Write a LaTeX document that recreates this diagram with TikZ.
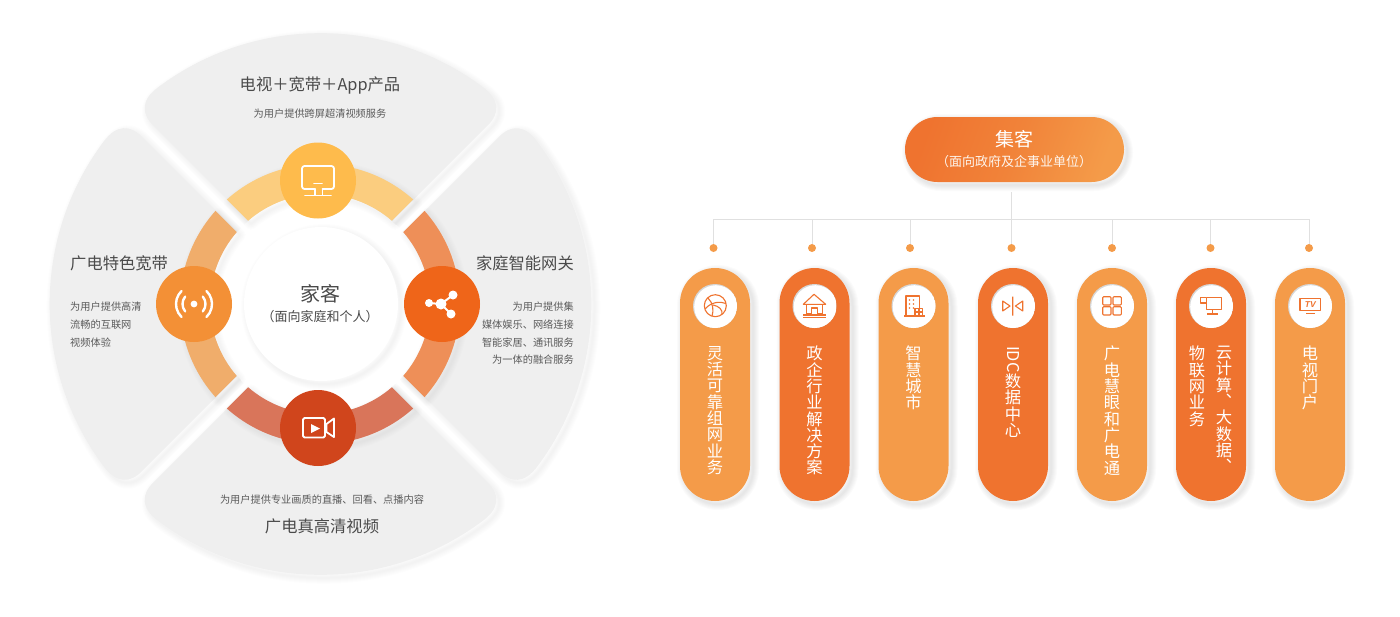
\documentclass[tikz,border=0pt]{standalone}
\usepackage{fontspec}
\usepackage{xcolor}
\usepackage{tikz}
\setmainfont{Noto Sans CJK SC}
\newfontfamily\tvfont{Liberation Sans}
\definecolor{sectorgray}{HTML}{EFEFEF}
\definecolor{textgray}{HTML}{4A4A4A}
\definecolor{notegray}{HTML}{5A5A5A}
\definecolor{linegray}{HTML}{E0E0E0}
\definecolor{holegray}{HTML}{D6D6D6}
\definecolor{pilla}{HTML}{F49B49}
\definecolor{pillb}{HTML}{EF732F}
\definecolor{ringtop}{HTML}{FBCD7F}
\definecolor{ringleft}{HTML}{F0AD6B}
\definecolor{ringright}{HTML}{EE8F58}
\definecolor{ringbot}{HTML}{D9755A}
\definecolor{balltop}{HTML}{FEBB4C}
\definecolor{ballleft}{HTML}{F39036}
\definecolor{ballright}{HTML}{EF6519}
\definecolor{ballbot}{HTML}{D0451C}
\newcommand{\vfont}{\fontsize{16.3pt}{16.3pt}\selectfont\lineskiplimit=-100pt\relax}
\tikzset{
    layer/.style 2 args={preaction={draw=black,draw opacity=#2,line width=#1,line join=round,transform canvas={shift={(3pt,-3pt)}}}},
    soft/.style={layer={12pt}{#1},layer={10pt}{#1},layer={8pt}{#1},layer={6pt}{#1},layer={4pt}{#1},layer={2pt}{#1}},
    ball/.style={circle,minimum size=76pt,inner sep=0pt},
    pill/.style={rectangle,rounded corners=35pt,minimum width=70pt,minimum height=233pt,inner sep=0pt,soft=.016},
    hole/.style={circle,fill=holegray,minimum size=44pt,inner sep=0pt,
        path picture={\fill[white] ([shift={(.8pt,-.8pt)}]path picture bounding box.center) circle (21.6pt);}},
    dot/.style={circle,fill=pilla,minimum size=8pt,inner sep=0pt},
    tree/.style={draw=linegray,line width=.8pt},
    title/.style={text=textgray,inner sep=0pt,font=\fontsize{16.3pt}{20pt}\selectfont},
    note/.style={text=notegray,inner sep=0pt,font=\fontsize{10.2pt}{17.6pt}\selectfont},
    vtext/.style={text=white,anchor=north,align=center,inner sep=0pt,font=\vfont},
    whiteline/.style={draw=white,line width=1.8pt,line cap=round,line join=round},
    thinline/.style={draw=pillb,line width=1.1pt,line join=round}
}
\begin{document}
\begin{tikzpicture}[x=1pt,y=-1pt]
    \useasboundingbox (0,0) rectangle (1400,616);

    \foreach \a in {0,90,180,270}
        \fill[sectorgray,soft=.006,shift={(320.5,304)},y=1pt,rotate=\a] (0,11.3) -- (-167,178.3)
            .. controls (-179,190) and (-180,204) .. (-162,217)
            arc[start angle=126.74,end angle=53.26,radius=271]
            .. controls (180,204) and (179,190) .. (167,178.3) -- cycle;

    \node[circle,fill=white,minimum size=220pt,inner sep=0pt] (disc) at (320,304) {};
    \foreach \a/\c in {0/ringtop,90/ringleft,180/ringbot,270/ringright}
        \fill[\c,soft=.006,shift={(320,304)},y=1pt,rotate=\a] (48.28:140)
            arc[start angle=48.28,end angle=131.72,radius=140] -- (130.83:110)
            arc[start angle=130.83,end angle=49.17,radius=110] -- cycle;

    \node[circle,fill=white,minimum size=154pt,inner sep=0pt,soft=.007] (home) at (321,304) {};
    \node[text=textgray,font=\fontsize{20pt}{24pt}\selectfont,inner sep=0pt] (homea) at (320,294) {家客};
    \node[text=textgray,font=\fontsize{13pt}{16pt}\selectfont,inner sep=0pt] (homeb) at (320,317) {（面向家庭和个人）};

    \node[ball,fill=balltop] (tv) at (318,180.5) {};
    \node[ball,fill=ballleft] (wifi) at (194,304) {};
    \node[ball,fill=ballright] (share) at (442,304) {};
    \node[ball,fill=ballbot] (video) at (318,428) {};

    \draw[whiteline,rounded corners=2.5pt] (315,189) -- (302,189) -- (302,166) -- (334,166) -- (334,189) -- (322.5,189);
    \draw[whiteline] (314,183.5) -- (322,183.5) (315,189) -- (315,195) (322.5,189) -- (322.5,195) (305,195.5) -- (331,195.5);

    \fill[white] (wifi) circle (3.4);
    \begin{scope}[shift={(194,304)},y=1pt]
        \draw[whiteline,line width=2.4pt] (40:11.5) arc[start angle=40,end angle=-40,radius=11.5];
        \draw[whiteline,line width=2.4pt] (140:11.5) arc[start angle=140,end angle=220,radius=11.5];
        \draw[whiteline,line width=2.4pt] (46:18) arc[start angle=46,end angle=-46,radius=18];
        \draw[whiteline,line width=2.4pt] (134:18) arc[start angle=134,end angle=226,radius=18];
    \end{scope}

    \draw[whiteline,line width=2pt] (429,303) -- (441,304) -- (453,295) (441,304) -- (451,314);
    \fill[white] (429,303) circle (4) (441,304) circle (5.5) (453,295) circle (4.5) (451,314) circle (4.5);

    \draw[whiteline,rounded corners=1.5pt] (303,418) rectangle (325,437.5);
    \draw[whiteline] (326.5,424) -- (334,418.5) -- (334,437) -- (326.5,432) -- cycle;
    \fill[white] (311,424) -- (320,428.5) -- (311,433) -- cycle;

    \node[title] (ttop) at (320,85.5) {电视＋宽带＋App产品};
    \node[note] (ntop) at (320,114) {为用户提供跨屏超清视频服务};
    \node[title,anchor=west] (tleft) at (70,263) {广电特色宽带};
    \node[note,anchor=north west,align=left] (nleft) at (70,302) {为用户提供高清\\流畅的互联网\\视频体验};
    \node[title,anchor=east] (tright) at (574,263) {家庭智能网关};
    \node[note,anchor=north east,align=right] (nright) at (574,302) {为用户提供集\\媒体娱乐、网络连接\\智能家居、通讯服务\\为一体的融合服务};
    \node[note] (nbot) at (322,500) {为用户提供专业画质的直播、回看、点播内容};
    \node[title] (tbot) at (322,526.5) {广电真高清视频};

    \node[rectangle,rounded corners=32.5pt,minimum width=219pt,minimum height=65pt,inner sep=0pt,soft=.016,
        left color=pillb,right color=pilla,middle color=pillb!60!pilla,shading angle=70] (jike) at (1014.5,149.5) {};
    \node[text=white,font=\fontsize{19pt}{22pt}\selectfont,inner sep=0pt] (jikea) at (1014,139) {集客};
    \node[text=white!90!pilla,font=\fontsize{13pt}{16pt}\selectfont,inner sep=0pt] (jikeb) at (1014,161.5) {（面向政府及企事业单位）};

    \coordinate (stem) at (1011.5,192);
    \coordinate (bus) at (1011.5,219.5);
    \foreach \i/\x in {1/713.5,2/812,3/910,4/1011.5,5/1112,6/1210.5,7/1309} {
        \node[dot] (d\i) at (\x,248) {};
        \draw[tree] (d\i) |- (bus);
    }
    \draw[tree] (stem) -- (d4);

    \foreach \i/\x/\c in {1/715/pilla,2/814.5/pillb,3/913.5/pilla,4/1013/pillb,5/1112/pilla,6/1211/pillb,7/1310/pilla} {
        \node[pill,fill=\c] (p\i) at (\x,384.5) {};
        \node[hole] (h\i) at (\x,306) {};
    }

    \node[vtext] (v1) at (715,346) {灵\\活\\可\\靠\\组\\网\\业\\务};
    \node[vtext] (v2) at (814.5,346) {政\\企\\行\\业\\解\\决\\方\\案};
    \node[vtext] (v3) at (913.5,346) {智\\慧\\城\\市};
    \node[vtext] (v4) at (1013,346) {\rotatebox{-90}{IDC}\\[25pt]数\\据\\中\\心};
    \node[vtext] (v5) at (1112,346) {广\\电\\慧\\眼\\和\\广\\电\\通};
    \node[vtext] (v6a) at (1224,346) {云\\计\\算\\︑\\大\\数\\据\\︑};
    \node[vtext] (v6b) at (1197,346) {物\\联\\网\\业\\务};
    \node[vtext] (v7) at (1310,346) {电\\视\\门\\户};

    \draw[thinline] (715.3,305.7) circle (11);
    \draw[thinline] (708,298) .. controls (713,303) and (714,310) .. (712,316.3);
    \draw[thinline] (705,309) .. controls (711,302) and (720,301) .. (726,303.5);
    \draw[thinline] (713,305) .. controls (719,306) and (723,310) .. (722,314.5);

    \draw[thinline] (803.3,304.3) -- (814,294.3) -- (825.7,304.3) -- cycle;
    \draw[thinline] (806.7,304.3) -- (806.7,314) -- (811.7,314) -- (811.7,308) -- (817.3,308) -- (817.3,314) -- (822.7,314) -- (822.7,304.3);
    \draw[thinline] (803.3,315) -- (825.7,315) (803.3,317.7) -- (825.7,317.7);

    \draw[thinline] (906,316) -- (906,296) -- (919.3,296) -- (919.3,308.3) (915,316) -- (915,308.3) -- (922.7,308.3) -- (922.7,316) (904,316) -- (925,316) (915,312) -- (922.7,312) (919,308.3) -- (919,316);
    \foreach \px in {909.5,913.5}
        \foreach \py in {300,304,308}
            \fill[pillb] (\px,\py) circle (.9);

    \draw[thinline] (1012.7,296.7) -- (1012.7,315.7) (1002.7,301) -- (1010,306) -- (1002.7,311) -- cycle (1022.7,301) -- (1015.4,306) -- (1022.7,311) -- cycle;

    \draw[thinline,rounded corners=1pt] (1102.7,296.7) rectangle (1111,305) (1113,296.7) rectangle (1121.3,305) (1102.7,306.7) rectangle (1111,315) (1113,306.7) rectangle (1121.3,315);

    \draw[thinline] (1206.5,297.3) -- (1221.7,297.3) -- (1221.7,309.3) -- (1206.5,309.3) -- (1206.5,303);
    \draw[thinline] (1200.7,297.3) rectangle (1206.5,303) (1212.3,309.3) -- (1212.3,314) (1207,314) -- (1217.5,314);

    \draw[thinline] (1300,298.3) rectangle (1320.7,310.7) (1306,313.3) -- (1315,313.3);
    \node[text=pillb,inner sep=0pt,font=\tvfont\fontsize{8.5pt}{10pt}\selectfont\bfseries\itshape] (tvtext) at (1310.4,304.5) {TV};
\end{tikzpicture}
\end{document}
